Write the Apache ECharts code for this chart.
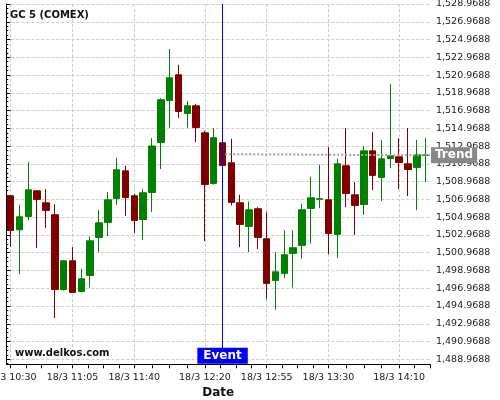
<!DOCTYPE html>
<html><head><meta charset="utf-8">
<script src="https://cdn.jsdelivr.net/npm/echarts@6/dist/echarts.min.js"></script>
<style>html,body{margin:0;padding:0;background:#fff}#c{width:500px;height:400px}</style>
</head><body><div id="c"></div>
<script>
const chartTitle = 'GC 5 (COMEX)';
const watermark = 'www.delkos.com';
const dateLabel = '18/3';
const times = ['10:30','10:35','10:40','10:45','10:50','10:55','11:00','11:05','11:10','11:15','11:20','11:25',
  '11:30','11:35','11:40','11:45','11:50','11:55','12:00','12:05','12:10','12:15','12:20','12:25',
  '12:30','12:35','12:40','12:45','12:50','12:55','13:00','13:05','13:10','13:15','13:20','13:25',
  '13:30','13:35','13:40','13:45','13:50','13:55','14:00','14:05','14:10','14:15','14:20','14:25'];
const opens  = [1507.38,1503.55,1505.05,1507.94,1506.59,1505.24,1496.83,1500.06,1496.61,1498.41,1502.69,1504.38,
  1507.08,1510.19,1507.38,1504.71,1507.75,1513.38,1518.11,1521.00,1516.65,1517.51,1514.47,1508.77,
  1513.35,1511.09,1506.59,1503.93,1505.92,1502.54,1497.85,1498.64,1500.89,1501.79,1505.95,1506.99,
  1506.93,1503.03,1510.76,1507.49,1506.40,1512.44,1509.44,1511.58,1511.77,1510.98,1510.57,1511.93];
const closes = [1503.48,1505.02,1508.05,1506.97,1505.73,1496.83,1500.06,1496.50,1498.04,1502.31,1504.34,1506.93,
  1510.31,1507.19,1504.60,1507.72,1512.98,1518.19,1520.66,1516.87,1517.51,1515.07,1508.65,1513.91,
  1510.79,1506.63,1504.15,1505.80,1502.69,1497.51,1498.82,1500.74,1501.53,1505.80,1507.15,1507.05,
  1503.14,1510.98,1507.64,1506.29,1512.44,1509.67,1511.54,1511.88,1511.13,1510.34,1511.99,1511.97];
const lows   = [1501.60,1498.56,1504.64,1501.49,1503.74,1493.61,1496.72,1496.44,1496.50,1497.06,1501.04,1502.84,
  1506.37,1505.09,1503.18,1502.39,1505.54,1510.38,1515.03,1516.12,1515.03,1513.42,1502.28,1508.65,
  1510.70,1506.29,1501.60,1501.04,1501.38,1495.78,1494.55,1498.11,1497.06,1500.29,1501.98,1505.99,
  1500.81,1500.36,1506.10,1502.95,1505.24,1508.02,1506.78,1510.49,1508.13,1507.34,1505.77,1508.92];
const highs  = [1507.45,1506.37,1511.17,1508.00,1508.13,1506.44,1500.15,1501.60,1499.16,1502.80,1505.77,1507.79,
  1511.66,1510.76,1507.60,1508.17,1513.87,1518.37,1523.89,1522.13,1518.04,1517.70,1514.70,1514.99,
  1513.40,1513.80,1507.49,1506.74,1506.10,1505.54,1501.04,1503.51,1503.51,1506.48,1509.52,1510.87,
  1512.86,1511.54,1514.99,1508.92,1512.93,1514.55,1513.65,1519.95,1513.87,1514.99,1513.68,1513.87];
const xLabelTimes = ['10:30','11:05','11:40','12:20','12:55','13:30','14:10'];
const yTicks = [1488.9688,1490.9688,1492.9688,1494.9688,1496.9688,1498.9688,1500.9688,1502.9688,1504.9688,
  1506.9688,1508.9688,1510.9688,1512.9688,1514.9688,1516.9688,1518.9688,1520.9688,1522.9688,1524.9688,
  1526.9688,1528.9688];
const yMin = 1488.406, yMax = 1528.9688;
const eventTime = '12:30';
const eventName = 'Event';
const trendName = 'Trend';
const trendStartValue = 1512.06;
const trendEndValue = 1511.93;

const n = times.length;
const eventIdx = times.indexOf(eventTime);
const labelPos = xLabelTimes.map(t => times.indexOf(t) + 0.5);
const interTicks = [];
for (let i = 0; i < labelPos.length; i++) {
  const a = labelPos[i];
  const b = i < labelPos.length - 1 ? labelPos[i + 1] : n + 0.01;
  const step = i < labelPos.length - 1 ? (b - a) / 4 : (labelPos[1] - labelPos[0]) / 4;
  for (let k = 1; k < 4; k++) { const v = a + k * step; if (v <= n + 0.001) interTicks.push(Math.min(v, n)); }
}
const minorY = [];
yTicks.forEach(t => [-1.5, -1, -0.5, 0.5, 1, 1.5].forEach(d => {
  const v = +(t + d).toFixed(4);
  if (v >= yMin && v <= yMax && minorY.indexOf(v) < 0 && yTicks.indexOf(v) < 0) minorY.push(v);
}));
const fmtY = v => {
  const s = (+v).toFixed(4).split('.');
  return s[0].replace(/\B(?=(\d{3})+(?!\d))/g, ',') + '.' + s[1];
};
const ohlc = times.map((t, i) => [opens[i], closes[i], lows[i], highs[i]]);
const font = 'DejaVu Sans';
const grid = {left: 6.3, right: 70, top: 4, bottom: 35.7, containLabel: false, outerBoundsMode: 'none'};
const gridLine = {show: true, lineStyle: {color: '#cccccc', width: 1, type: [3, 2]}};

const chart = echarts.init(document.getElementById('c'), null, {renderer: 'canvas'});
chart.setOption({
  animation: false,
  backgroundColor: '#fff',
  textStyle: {fontFamily: font},
  title: {text: chartTitle, left: 10, top: 10, padding: 0,
    textStyle: {fontSize: 10, fontWeight: 'bold', color: '#111', fontFamily: font}},
  graphic: [{type: 'text', left: 15, top: 348, z: 100,
    style: {text: watermark, font: 'bold 10px "DejaVu Sans"', fill: '#111'}}],
  grid: grid,
  xAxis: [
    {type: 'category', data: times, boundaryGap: true, show: false},
    {type: 'value', min: 0, max: n, position: 'bottom', offset: 0,
      axisLine: {show: true, lineStyle: {color: '#000', width: 1}},
      axisTick: {show: true, customValues: labelPos, length: 4, lineStyle: {color: '#000'}},
      axisLabel: {customValues: labelPos, formatter: v => dateLabel + ' ' + times[Math.floor(v)],
        fontSize: 9.5, color: '#1a1a1a', margin: 8, fontFamily: font, hideOverlap: false},
      splitLine: gridLine,
      name: 'Date', nameLocation: 'middle', nameGap: 19,
      nameTextStyle: {fontSize: 12, fontWeight: 'bold', color: '#111', fontFamily: font}},
    {type: 'value', min: 0, max: n, position: 'bottom', offset: 0,
      axisLine: {show: false}, axisLabel: {show: false}, splitLine: {show: false},
      axisTick: {show: true, customValues: interTicks, length: 4, lineStyle: {color: '#000'}}}
  ],
  yAxis: [
    {type: 'value', position: 'right', min: yMin, max: yMax, offset: 0,
      axisLine: {show: true, lineStyle: {color: '#000', width: 1}},
      axisTick: {show: true, customValues: yTicks, length: 4, lineStyle: {color: '#000'}},
      axisLabel: {customValues: yTicks, formatter: fmtY, fontSize: 9.5, color: '#1a1a1a', margin: 6, fontFamily: font},
      splitLine: gridLine},
    {type: 'value', position: 'right', min: yMin, max: yMax, offset: 0,
      axisLine: {show: false}, axisLabel: {show: false}, splitLine: {show: false},
      axisTick: {show: true, customValues: minorY, length: 2, lineStyle: {color: '#000'}}}
  ],
  series: [
    {type: 'candlestick', xAxisIndex: 0, yAxisIndex: 0, data: ohlc, barWidth: 7,
      itemStyle: {color: '#008000', color0: '#800000', borderColor: '#008000', borderColor0: '#800000', borderWidth: 1},
      markLine: {silent: true, symbol: ['none', 'none'], animation: false,
        lineStyle: {color: '#0000ff', width: 1, type: 'solid'}, label: {show: false},
        data: [{xAxis: eventIdx}]},
      markPoint: {silent: true, animation: false,
        data: [{coord: [eventIdx, yMin], symbol: 'rect', symbolSize: 1, itemStyle: {color: 'rgba(0,0,0,0)'},
          label: {show: true, position: 'top', distance: 0, formatter: eventName, color: '#fff',
            fontSize: 12, fontWeight: 'bold', fontFamily: font, backgroundColor: '#0000ff',
            padding: [2, 6, 1, 6], lineHeight: 13}}]}},
    {type: 'line', xAxisIndex: 1, yAxisIndex: 0, symbol: 'none', silent: true,
      data: [[eventIdx + 0.8, trendStartValue], [n, trendEndValue]],
      lineStyle: {color: '#a0a0a0', width: 2, type: [2, 2]},
      endLabel: {show: true, formatter: trendName, color: '#fff', fontSize: 12, fontWeight: 'bold', fontFamily: font,
        backgroundColor: '#888888', padding: [2, 4, 1, 4], lineHeight: 13, distance: 1}}
  ]
});
</script></body></html>
